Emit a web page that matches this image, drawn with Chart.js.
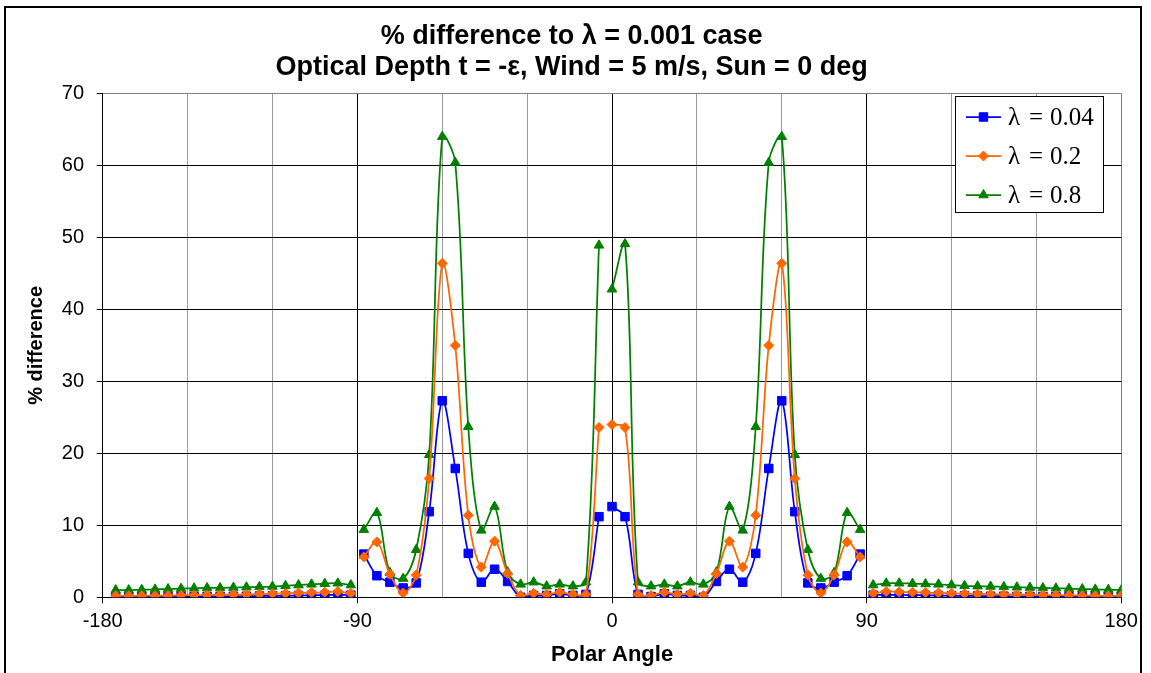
<!DOCTYPE html>
<html><head><meta charset="utf-8">
<script src="https://cdn.jsdelivr.net/npm/chart.js@4.4.1/dist/chart.umd.min.js"></script>
<style>html,body{margin:0;padding:0;background:#fff;overflow:hidden}#wrap{position:relative;width:1151px;height:673px}</style>
</head><body><div id="wrap"><canvas id="c" width="1151" height="673"></canvas></div>
<script>
const titleLines = ["% difference to λ = 0.001 case", "Optical Depth t = -ε, Wind = 5 m/s, Sun = 0 deg"];
const xTitle = "Polar Angle";
const yTitle = "% difference";
const seriesNames = ["λ = 0.04", "λ = 0.2", "λ = 0.8"];

// polar angles of the samples (degrees)
const angles = [
  -175.4,-170.8,-166.2,-161.5,-156.9,-152.3,-147.7,-143.1,-138.5,-133.8,-129.2,-124.6,-120.0,-115.4,-110.8,-106.2,-101.5,-96.9,-92.3,
  -87.7,-83.1,-78.5,-73.8,-69.2,-64.6,-60.0,-55.4,-50.8,-46.2,-41.5,-36.9,-32.3,-27.7,-23.1,-18.5,-13.8,-9.2,-4.6,
  0.0,4.6,9.2,13.8,18.5,23.1,27.7,32.3,36.9,41.5,46.2,50.8,55.4,60.0,64.6,69.2,73.8,78.5,83.1,87.7,
  92.3,96.9,101.5,106.2,110.8,115.4,120.0,124.6,129.2,133.8,138.5,143.1,147.7,152.3,156.9,161.5,166.2,170.8,175.4,180.0
];
// line breaks after these sample indices
const gapAfter = [18, 37, 57];

const lam004 = [
  0.05,0.05,0.05,0.08,0.08,0.1,0.1,0.12,0.12,0.15,0.15,0.18,0.2,0.22,0.25,0.28,0.3,0.35,0.3,
  6.0,3.0,2.1,1.3,2.0,11.9,27.3,17.9,6.1,2.1,3.9,2.2,0.0,0.25,0.25,0.5,0.25,0.4,11.2,
  12.6,11.2,0.4,0.1,0.5,0.25,0.25,0.0,2.2,3.9,2.1,6.1,17.9,27.3,11.9,2.0,1.3,2.1,3.0,6.0,
  0.3,0.35,0.33,0.3,0.28,0.25,0.22,0.2,0.18,0.15,0.15,0.12,0.12,0.1,0.1,0.08,0.08,0.05,0.05,0.05
];
const lam02 = [
  0.2,0.2,0.22,0.22,0.25,0.28,0.3,0.32,0.35,0.38,0.4,0.45,0.5,0.55,0.6,0.65,0.7,0.8,0.55,
  5.6,7.7,3.2,0.6,3.1,16.5,46.4,35.0,11.4,4.2,7.8,3.3,0.25,0.55,0.4,0.7,0.4,0.4,23.6,
  24.0,23.6,0.4,0.25,0.7,0.4,0.55,0.25,3.3,7.8,4.2,11.4,35.0,46.4,16.5,3.1,0.6,3.1,7.7,5.6,
  0.55,0.8,0.75,0.7,0.65,0.6,0.55,0.5,0.45,0.42,0.4,0.38,0.35,0.32,0.3,0.28,0.25,0.22,0.2,0.2
];
const lam08 = [
  1.0,1.0,1.05,1.1,1.15,1.2,1.25,1.3,1.3,1.35,1.4,1.45,1.5,1.6,1.7,1.8,1.9,1.95,1.7,
  9.4,11.75,3.4,2.6,6.6,19.8,64.0,60.4,23.7,9.3,12.6,3.5,1.8,2.1,1.55,1.8,1.55,2.1,48.9,
  42.8,49.1,2.1,1.55,1.8,1.55,2.1,1.8,3.5,12.6,9.3,23.7,60.4,64.0,19.8,6.6,2.6,3.4,11.75,9.4,
  1.7,1.95,1.95,1.9,1.85,1.8,1.7,1.6,1.55,1.5,1.45,1.4,1.35,1.3,1.25,1.2,1.15,1.1,1.05,1.0
];

function toPoints(vals) {
  const pts = [];
  for (let i = 0; i < angles.length; i++) {
    pts.push({x: angles[i], y: vals[i]});
    if (gapAfter.includes(i)) pts.push({x: (angles[i] + angles[i + 1]) / 2, y: null});
  }
  return pts;
}

const styles = [
  {color: '#0000ff', pointStyle: 'rect', radius: 6, order: 2},
  {color: '#ff6600', pointStyle: 'rectRot', radius: 5, order: 0},
  {color: '#008000', pointStyle: 'triangle', radius: 5.5, order: 1}
];
const seriesVals = [lam004, lam02, lam08];

const datasets = seriesVals.map((v, i) => ({
  label: seriesNames[i],
  data: toPoints(v),
  showLine: true,
  spanGaps: false,
  borderColor: styles[i].color,
  backgroundColor: styles[i].color,
  pointBackgroundColor: styles[i].color,
  pointBorderColor: styles[i].color,
  pointStyle: styles[i].pointStyle,
  pointRadius: styles[i].radius,
  pointHoverRadius: styles[i].radius,
  pointBorderWidth: 1,
  borderWidth: 1.75,
  tension: 0.35,
  order: styles[i].order
}));

const framePlugin = {
  id: 'frame',
  beforeDraw(chart) {
    const ctx = chart.ctx;
    ctx.save();
    ctx.fillStyle = '#fff';
    ctx.fillRect(0, 0, chart.width, chart.height);
    ctx.restore();
  },
  afterDraw(chart) {
    const ctx = chart.ctx;
    ctx.save();
    ctx.strokeStyle = '#000';
    ctx.lineWidth = 2;
    ctx.strokeRect(5, 7, 1136, 700);
    // legend
    const bx = 955.5, by = 96.5, bw = 148, bh = 116;
    ctx.fillStyle = '#fff';
    ctx.fillRect(bx, by, bw, bh);
    ctx.lineWidth = 1;
    ctx.strokeStyle = '#000';
    ctx.strokeRect(bx, by, bw, bh);
    const rows = [117, 156, 195];
    chart.data.datasets.forEach((ds, i) => {
      const y = rows[i];
      ctx.strokeStyle = ds.borderColor;
      ctx.lineWidth = 1.75;
      ctx.beginPath();
      ctx.moveTo(966, y);
      ctx.lineTo(1001, y);
      ctx.stroke();
      ctx.fillStyle = ds.borderColor;
      ctx.strokeStyle = ds.borderColor;
      ctx.lineWidth = 1;
      Chart.helpers.drawPoint(ctx, {pointStyle: ds.pointStyle, radius: ds.pointRadius, rotation: 0, borderWidth: 1}, 983.5, y);
      ctx.fillStyle = '#000';
      ctx.font = '25px "Liberation Serif", serif';
      ctx.textBaseline = 'middle';
      ctx.textAlign = 'left';
      const parts = ds.label.split(' ');
      ctx.fillText(parts[0], 1008, y + 1);
      ctx.fillText(parts[1], 1029, y + 1);
      ctx.fillText(parts[2], 1050, y + 1);
    });
    ctx.restore();
  }
};

new Chart(document.getElementById('c'), {
  type: 'scatter',
  data: {datasets},
  plugins: [framePlugin],
  options: {
    responsive: false,
    animation: false,
    events: [],
    layout: {padding: {left: 22, right: 29.7, top: 7, bottom: 0}},
    plugins: {
      legend: {display: false},
      tooltip: {enabled: false},
      title: {
        display: true,
        text: titleLines,
        color: '#000',
        font: {family: '"Liberation Sans", Arial, sans-serif', size: 27, weight: 'bold', lineHeight: 1.148},
        padding: {top: 14, bottom: 10.5}
      }
    },
    scales: {
      x: {
        type: 'linear',
        min: -180, max: 180,
        afterFit: s => { s.height = 75.7; },
        ticks: {
          stepSize: 30,
          autoSkip: false,
          maxRotation: 0,
          color: '#000',
          padding: 6,
          font: {family: '"Liberation Sans", Arial, sans-serif', size: 20},
          callback: v => (v % 90 === 0 ? String(v) : '')
        },
        grid: {
          color: c => (c.tick && c.tick.value % 90 === 0 && c.tick.value !== 180 ? '#000' : (c.tick && c.tick.value === 180 ? '#808080' : '#999999')),
          tickColor: c => (c.tick && c.tick.value % 90 === 0 ? '#000' : 'rgba(0,0,0,0)'),
          tickLength: 6,
          lineWidth: 1
        },
        border: {color: '#000', width: 1},
        title: {
          display: true, text: xTitle, color: '#000',
          font: {family: '"Liberation Sans", Arial, sans-serif', size: 22, weight: 'bold'},
          padding: {top: 0, bottom: 5}
        }
      },
      y: {
        min: 0, max: 70,
        afterFit: s => { s.width = 80.7; },
        ticks: {
          stepSize: 10,
          color: '#000',
          padding: 12.7,
          font: {family: '"Liberation Sans", Arial, sans-serif', size: 20}
        },
        grid: {
          color: c => (c.tick && c.tick.value === 70 ? '#808080' : '#000'),
          tickColor: '#000',
          tickLength: 6,
          lineWidth: 1
        },
        border: {color: '#000', width: 1},
        title: {
          display: true, text: yTitle, color: '#000',
          font: {family: '"Liberation Sans", Arial, sans-serif', size: 20, weight: 'bold'},
          padding: {top: 2.6, bottom: 0}
        }
      }
    }
  }
});
</script>
</body></html>
